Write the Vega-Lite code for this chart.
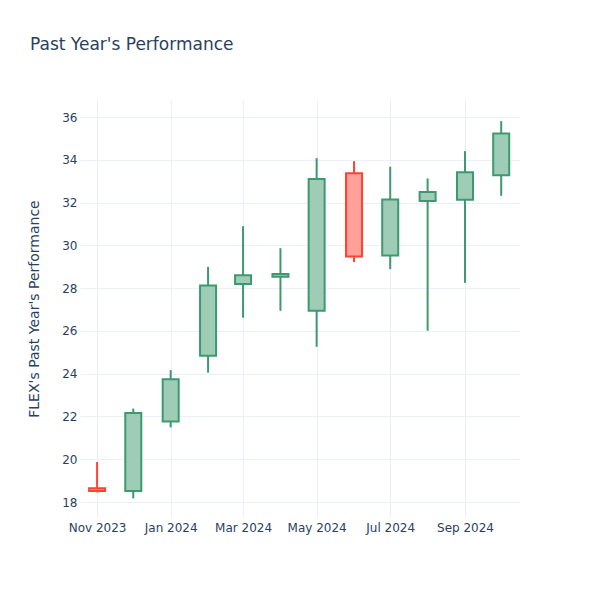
{
  "$schema": "https://vega.github.io/schema/vega-lite/v6.json",
  "autosize": {"type": "none"},
  "width": 440,
  "height": 417,
  "padding": {"left": 80, "top": 100, "right": 80, "bottom": 83},
  "background": "white",
  "config": {
    "view": {"stroke": null},
    "font": "DejaVu Sans",
    "axis": {"labelFont": "DejaVu Sans", "titleFont": "DejaVu Sans"}
  },
  "title": {
    "text": "Past Year's Performance",
    "anchor": "start",
    "frame": "group",
    "dx": -50,
    "offset": 46,
    "fontSize": 17,
    "fontWeight": "normal",
    "color": "#2a3f5f",
    "font": "DejaVu Sans"
  },
  "data": {
    "values": [
      {"date": "2023-11-01", "open": 18.65, "close": 18.52, "high": 19.87, "low": 18.45},
      {"date": "2023-12-01", "open": 18.51, "close": 22.16, "high": 22.37, "low": 18.17},
      {"date": "2024-01-01", "open": 21.76, "close": 23.74, "high": 24.17, "low": 21.49},
      {"date": "2024-02-01", "open": 24.84, "close": 28.13, "high": 29.0, "low": 24.05},
      {"date": "2024-03-01", "open": 28.19, "close": 28.6, "high": 30.9, "low": 26.62},
      {"date": "2024-04-01", "open": 28.53, "close": 28.66, "high": 29.87, "low": 26.94},
      {"date": "2024-05-01", "open": 26.95, "close": 33.1, "high": 34.08, "low": 25.26},
      {"date": "2024-06-01", "open": 33.38, "close": 29.48, "high": 33.94, "low": 29.22},
      {"date": "2024-07-01", "open": 29.53, "close": 32.15, "high": 33.68, "low": 28.89},
      {"date": "2024-08-01", "open": 32.08, "close": 32.5, "high": 33.13, "low": 26.01},
      {"date": "2024-09-01", "open": 32.13, "close": 33.42, "high": 34.41, "low": 28.25},
      {"date": "2024-10-01", "open": 33.28, "close": 35.23, "high": 35.81, "low": 32.32}
    ]
  },
  "encoding": {
    "x": {
      "field": "date",
      "type": "temporal",
      "scale": {
        "type": "utc",
        "padding": 0,
        "domain": [
          {"year": 2023, "month": 10, "date": 17, "hours": 20, "utc": true},
          {"year": 2024, "month": 10, "date": 16, "hours": 14, "utc": true}
        ]
      },
      "axis": {
        "title": null,
        "values": [
          {"year": 2023, "month": 11, "date": 1, "utc": true},
          {"year": 2024, "month": 1, "date": 1, "utc": true},
          {"year": 2024, "month": 3, "date": 1, "utc": true},
          {"year": 2024, "month": 5, "date": 1, "utc": true},
          {"year": 2024, "month": 7, "date": 1, "utc": true},
          {"year": 2024, "month": 9, "date": 1, "utc": true}
        ],
        "format": "%b %Y",
        "grid": true,
        "gridColor": "#EBF0F8",
        "gridWidth": 1,
        "domain": false,
        "ticks": false,
        "labelPadding": 5,
        "labelFontSize": 12,
        "labelColor": "#2a3f5f",
        "labelFlush": false
      }
    }
  },
  "layer": [
    {
      "mark": {"type": "rule", "strokeWidth": 2},
      "encoding": {
        "y": {
          "field": "low",
          "type": "quantitative",
          "scale": {"domain": [17.3, 36.8], "nice": false, "zero": false},
          "axis": {
            "title": "FLEX's Past Year's Performance",
            "titleFontSize": 14,
            "titleFontWeight": "normal",
            "titleColor": "#2a3f5f",
            "titlePadding": 20,
            "values": [18, 20, 22, 24, 26, 28, 30, 32, 34, 36],
            "grid": true,
            "gridColor": "#EBF0F8",
            "gridWidth": 1,
            "domain": false,
            "ticks": false,
            "labelPadding": 3,
            "labelFontSize": 12,
            "labelColor": "#2a3f5f"
          }
        },
        "y2": {"field": "high"},
        "stroke": {
          "condition": {"test": "datum.close >= datum.open", "value": "#3D9970"},
          "value": "#FF4136"
        }
      }
    },
    {
      "mark": {"type": "bar", "size": 16, "strokeWidth": 2},
      "encoding": {
        "y": {"field": "open", "type": "quantitative"},
        "y2": {"field": "close"},
        "fill": {
          "condition": {"test": "datum.close >= datum.open", "value": "#9ECCB7"},
          "value": "#FFA09A"
        },
        "stroke": {
          "condition": {"test": "datum.close >= datum.open", "value": "#3D9970"},
          "value": "#FF4136"
        }
      }
    }
  ]
}
